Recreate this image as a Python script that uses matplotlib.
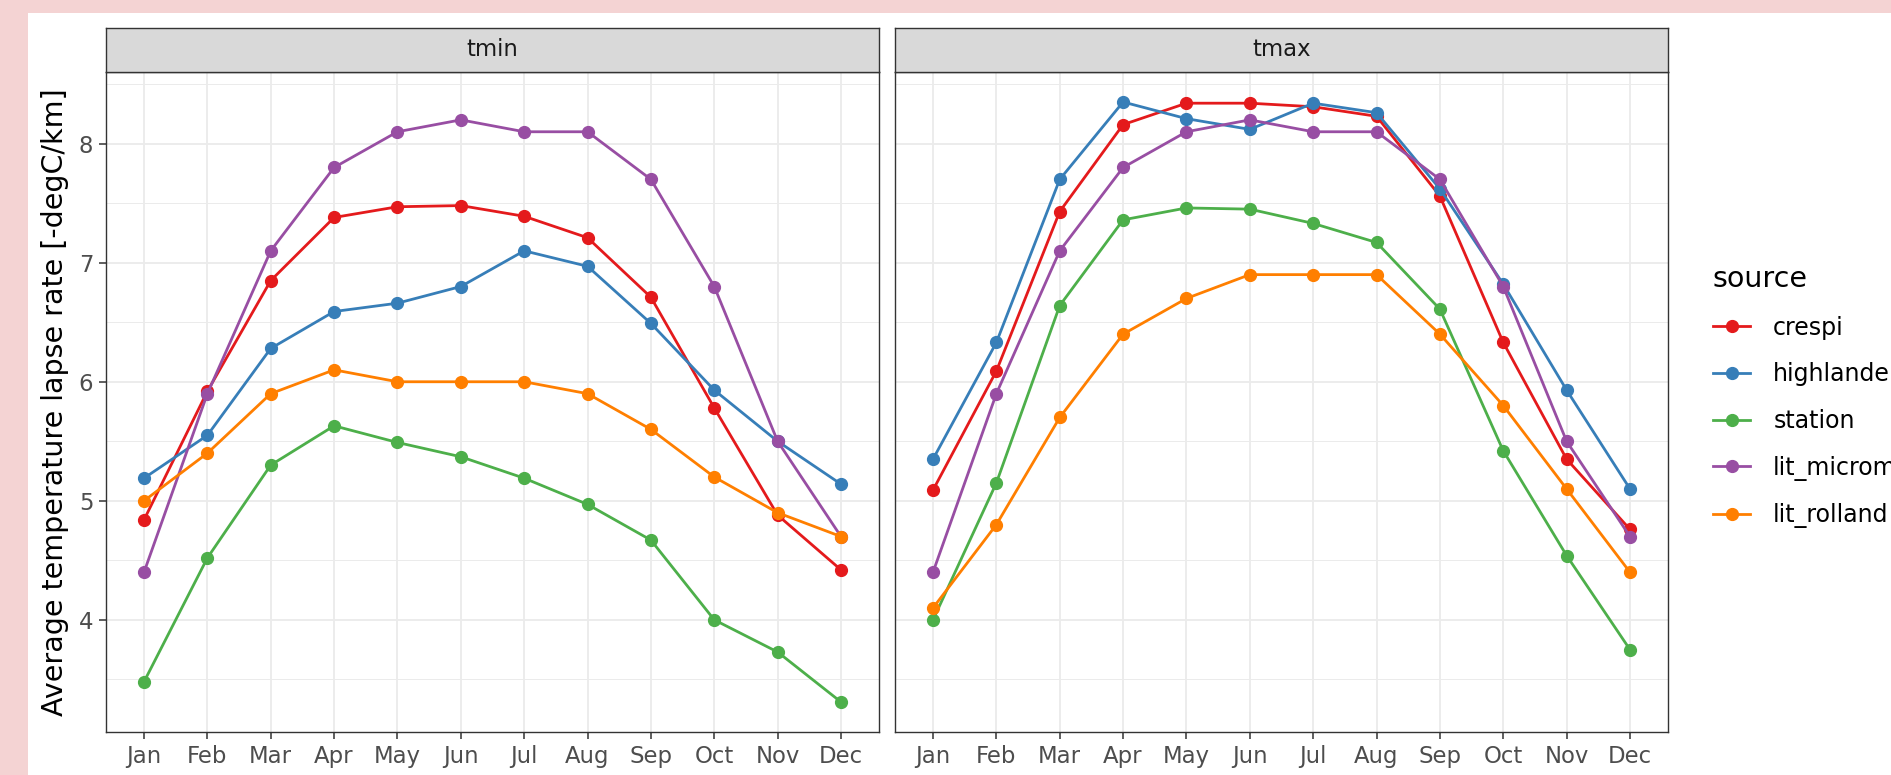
import matplotlib

matplotlib.use("Agg")
import matplotlib.pyplot as plt
from matplotlib.lines import Line2D
from matplotlib.patches import Rectangle
import numpy as np

MONTHS = ["Jan", "Feb", "Mar", "Apr", "May", "Jun", "Jul", "Aug", "Sep", "Oct", "Nov", "Dec"]
SOURCES = ["crespi", "highlander", "station", "lit_micromet", "lit_rolland"]
COLORS = ["#E41A1C", "#377EB8", "#4DAF4A", "#984EA3", "#FF7F00"]
PANELS = ["tmin", "tmax"]

# tmin lapse rates
tmin_crespi = [4.84, 5.92, 6.85, 7.38, 7.47, 7.48, 7.39, 7.21, 6.71, 5.78, 4.88, 4.42]
tmin_highlander = [5.19, 5.55, 6.28, 6.59, 6.66, 6.80, 7.10, 6.97, 6.49, 5.93, 5.50, 5.14]
tmin_station = [3.48, 4.52, 5.30, 5.63, 5.49, 5.37, 5.19, 4.97, 4.67, 4.00, 3.73, 3.31]
tmin_lit_micromet = [4.4, 5.9, 7.1, 7.8, 8.1, 8.2, 8.1, 8.1, 7.7, 6.8, 5.5, 4.7]
tmin_lit_rolland = [5.0, 5.4, 5.9, 6.1, 6.0, 6.0, 6.0, 5.9, 5.6, 5.2, 4.9, 4.7]

# tmax lapse rates
tmax_crespi = [5.09, 6.09, 7.43, 8.16, 8.34, 8.34, 8.31, 8.23, 7.56, 6.33, 5.35, 4.76]
tmax_highlander = [5.35, 6.33, 7.70, 8.35, 8.21, 8.12, 8.34, 8.26, 7.62, 6.82, 5.93, 5.10]
tmax_station = [4.00, 5.15, 6.64, 7.36, 7.46, 7.45, 7.33, 7.17, 6.61, 5.42, 4.54, 3.75]
tmax_lit_micromet = [4.4, 5.9, 7.1, 7.8, 8.1, 8.2, 8.1, 8.1, 7.7, 6.8, 5.5, 4.7]
tmax_lit_rolland = [4.1, 4.8, 5.7, 6.4, 6.7, 6.9, 6.9, 6.9, 6.4, 5.8, 5.1, 4.4]

DATA = {
    "tmin": [tmin_crespi, tmin_highlander, tmin_station, tmin_lit_micromet, tmin_lit_rolland],
    "tmax": [tmax_crespi, tmax_highlander, tmax_station, tmax_lit_micromet, tmax_lit_rolland],
}

W, H = 1891, 775
DPI = 100
TXT = 16.4


def fx(px):
    return px / W


def fy(py):
    return 1 - py / H


allv = np.concatenate([np.ravel(v) for v in DATA.values()])
pad = 0.05 * (allv.max() - allv.min())
ylim = (allv.min() - pad, allv.max() + pad)

fig = plt.figure(figsize=(W / DPI, H / DPI), dpi=DPI, facecolor="#F4D3D3")
fig.add_artist(Rectangle((fx(28), 0), 1, fy(13), transform=fig.transFigure,
                         facecolor="white", edgecolor="none", zorder=-10))

lefts = [106, 895]
x = np.arange(len(MONTHS))
axes = []
for i, name in enumerate(PANELS):
    ax = fig.add_axes([fx(lefts[i]), fy(732), 773 / W, 660 / H])
    ax.set_facecolor("white")
    for s, c, vals in zip(SOURCES, COLORS, DATA[name]):
        ax.plot(x, vals, "-o", color=c, lw=2.0, ms=8.5, label=s, zorder=3)
    ax.set_xlim(-0.6, len(MONTHS) - 1 + 0.6)
    ax.set_ylim(*ylim)
    ax.set_xticks(x)
    ax.set_xticklabels(MONTHS)
    ax.set_yticks([4, 5, 6, 7, 8])
    ax.set_yticks(np.arange(3.5, 9, 1.0), minor=True)
    ax.grid(which="major", color="#EBEBEB", lw=1.3, zorder=0)
    ax.grid(which="minor", axis="y", color="#EBEBEB", lw=0.7, zorder=0)
    ax.set_axisbelow(True)
    ax.tick_params(which="major", length=5.1, width=1.1, color="#333333",
                   labelsize=TXT, labelcolor="#4D4D4D", pad=4)
    ax.tick_params(which="minor", length=0)
    for sp in ax.spines.values():
        sp.set_color("#333333")
        sp.set_linewidth(1.0)
    if i > 0:
        ax.tick_params(axis="y", which="both", left=False, labelleft=False)
    # facet strip
    st = fig.add_axes([fx(lefts[i]), fy(72), 773 / W, 44 / H])
    st.set_facecolor("#D9D9D9")
    st.set_xticks([])
    st.set_yticks([])
    for sp in st.spines.values():
        sp.set_color("#333333")
        sp.set_linewidth(1.0)
    st.text(0.5, 0.5, name, ha="center", va="center", fontsize=TXT, color="#1A1A1A",
            transform=st.transAxes)
    axes.append(ax)

fig.text(fx(55), fy(402), "Average temperature lapse rate [-degC/km]", rotation=90,
         ha="center", va="center", fontsize=20.5, color="black")

handles = [Line2D([], [], color=c, lw=2.0, marker="o", ms=8.5) for c in COLORS]
fig.legend(handles, SOURCES, loc="upper left", bbox_to_anchor=(fx(1713), fy(265)),
           frameon=False, title="source", fontsize=17, title_fontsize=20.5,
           handlelength=1.57, handletextpad=0.98, labelspacing=0.96,
           borderpad=0, borderaxespad=0, alignment="left")

fig.savefig("out.png", dpi=DPI, facecolor=fig.get_facecolor())
